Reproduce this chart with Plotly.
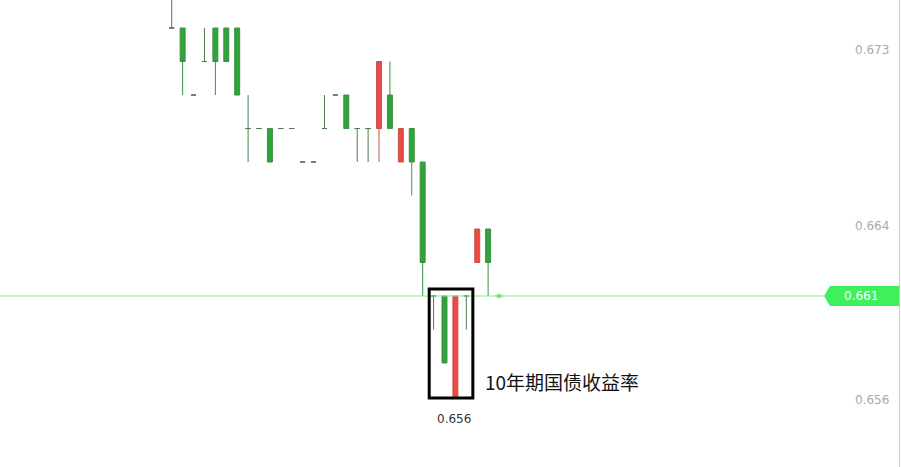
import plotly.graph_objects as go

# price levels (yield candles, one per bar)
opens = [0.6742, 0.6742, 0.6709, 0.67255, 0.6742, 0.6742, 0.6742, 0.66925, 0.66925, 0.66925,
         0.66925, 0.66925, 0.6676, 0.6676, 0.66925, 0.6709, 0.6709, 0.66925, 0.66925, 0.66925,
         0.6709, 0.6676, 0.66925, 0.6676, 0.661, 0.661, 0.65605, 0.661, 0.66265, 0.6643]
highs = [0.6775, 0.6742, 0.6709, 0.6742, 0.6742, 0.6742, 0.6742, 0.6709, 0.66925, 0.66925,
         0.66925, 0.66925, 0.6676, 0.6676, 0.6709, 0.6709, 0.6709, 0.66925, 0.66925, 0.67255,
         0.67255, 0.66925, 0.66925, 0.6676, 0.661, 0.661, 0.661, 0.661, 0.6643, 0.6643]
lows = [0.6742, 0.6709, 0.6709, 0.67255, 0.6709, 0.67255, 0.6709, 0.6676, 0.66925, 0.6676,
        0.66925, 0.66925, 0.6676, 0.6676, 0.66925, 0.6709, 0.66925, 0.6676, 0.6676, 0.6676,
        0.66925, 0.6676, 0.66595, 0.661, 0.65935, 0.6577, 0.65605, 0.65935, 0.66265, 0.661]
closes = [0.6742, 0.67255, 0.6709, 0.67255, 0.67255, 0.67255, 0.6709, 0.66925, 0.66925, 0.6676,
          0.66925, 0.66925, 0.6676, 0.6676, 0.66925, 0.6709, 0.66925, 0.66925, 0.66925, 0.67255,
          0.66925, 0.66925, 0.6676, 0.66265, 0.661, 0.6577, 0.661, 0.661, 0.6643, 0.66265]
current_price = 0.661
boxed = [24, 25, 26, 27]
tick_values = [0.6731, 0.66445, 0.65588]
label_text = "10年期国债收益率"

GREEN = "#2ea53a"
RED = "#ec4a42"

n = len(opens)
idx = list(range(n))
doji = [i for i in idx if opens[i] == closes[i]]
body = [i for i in idx if opens[i] != closes[i]]


def pick(arr, ids):
    return [arr[i] for i in ids]


fig = go.Figure()

fig.add_trace(go.Candlestick(
    x=body, open=pick(opens, body), high=pick(highs, body),
    low=pick(lows, body), close=pick(closes, body),
    increasing=dict(fillcolor=RED, line=dict(color="#c9514b", width=1)),
    decreasing=dict(fillcolor=GREEN, line=dict(color="#3c9144", width=1)),
    whiskerwidth=0, hoverinfo="skip",
))
fig.add_trace(go.Candlestick(
    x=doji, open=pick(opens, doji), high=pick(highs, doji),
    low=pick(lows, doji), close=pick(closes, doji),
    increasing=dict(fillcolor="#4f7d4f", line=dict(color="#4f7d4f", width=1)),
    decreasing=dict(fillcolor="#4f7d4f", line=dict(color="#4f7d4f", width=1)),
    whiskerwidth=0, hoverinfo="skip",
))
# live bar marker
fig.add_trace(go.Scatter(
    x=[n], y=[current_price], mode="markers",
    marker=dict(symbol="diamond-wide", size=7, color="#86e086"),
    hoverinfo="skip",
))

box_top = max(pick(highs, boxed)) + 0.00035
box_bot = min(pick(lows, boxed)) - 0.00007

fig.add_shape(type="line", xref="paper", yref="y", x0=0, x1=0.917,
              y0=current_price, y1=current_price,
              line=dict(color="#8fe68f", width=1))
fig.add_shape(type="path", xref="paper", yref="y",
              xsizemode="pixel", xanchor=1, ysizemode="pixel", yanchor=current_price,
              path="M -75,0 L -69,10 L 0,10 L 0,-10 L -69,-10 Z",
              fillcolor="#40f05a", line=dict(width=0))
fig.add_shape(type="rect", xref="x", yref="y",
              x0=boxed[0] - 0.4, x1=boxed[-1] + 0.6, y0=box_bot, y1=box_top,
              line=dict(color="#000000", width=3))

# right-hand price scale
for v in tick_values:
    fig.add_annotation(x=0.991, xref="paper", y=v, yref="y", xanchor="right",
                       text=f"{v:.3f}", showarrow=False,
                       font=dict(family="DejaVu Sans", size=12, color="#a9a9a9"))

fig.add_annotation(x=0.958, xref="paper", y=current_price, yref="y", xanchor="center",
                   text=f"{current_price:.3f}", showarrow=False,
                   font=dict(family="DejaVu Sans", size=12, color="#ffffff"))
fig.add_annotation(x=(boxed[0] + boxed[-1]) / 2 + 0.4, y=box_bot, yanchor="middle", yshift=-21,
                   text=f"{min(pick(lows, boxed)):.3f}", showarrow=False,
                   font=dict(family="DejaVu Sans", size=12, color="#333333"))
fig.add_annotation(x=boxed[-1] + 1.5, y=0.6568, xanchor="left", yanchor="middle",
                   text=label_text, showarrow=False,
                   font=dict(family="Noto Sans CJK SC", size=19, color="#111111"))

fig.update_layout(
    width=901, height=467,
    margin=dict(l=0, r=2, t=0, b=0),
    paper_bgcolor="white", plot_bgcolor="white",
    showlegend=False, boxgap=0.35,
    xaxis=dict(range=[-15.74, 66.66], visible=False, rangeslider=dict(visible=False)),
    yaxis=dict(range=[0.652576, 0.675581], side="right", showticklabels=False,
               showgrid=False, zeroline=False, ticks="",
               showline=True, linecolor="#dcc7a6", linewidth=1),
)

fig.write_html("out.html", config={"displayModeBar": False},
               post_script="document.body.style.margin='0';")
